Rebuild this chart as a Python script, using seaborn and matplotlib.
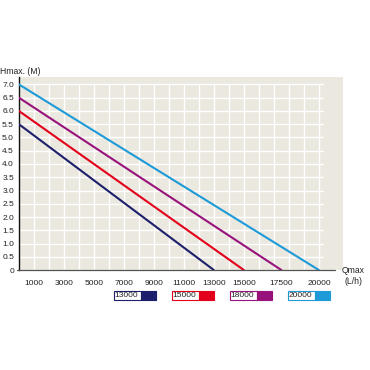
import pandas as pd
import matplotlib.pyplot as plt
import seaborn as sns
from matplotlib.patches import Rectangle

# pump models, head at zero flow (m) and max flow (L/h)
models = ["13000", "15000", "18000", "20000"]
h_max = [5.5, 6.0, 6.5, 7.0]
q_max = [13000, 15000, 17500, 20000]
colors = ["#1c1f6b", "#e2001a", "#98127c", "#1d9ad8"]

x_ticks = [1000, 3000, 5000, 7000, 9000, 11000, 13000, 15000, 17500, 20000]
y_ticks = [0, 0.5, 1.0, 1.5, 2.0, 2.5, 3.0, 3.5, 4.0, 4.5, 5.0, 5.5, 6.0, 6.5, 7.0]
y_labels = ["0"] + [f"{v:.1f}" for v in y_ticks[1:]]

rows = []
for m, h, q in zip(models, h_max, q_max):
    rows.append({"model": m, "Q": 0, "H": h})
    rows.append({"model": m, "Q": q, "H": 0})
df = pd.DataFrame(rows)

sns.set_style("white")
plt.rcParams["font.family"] = ["Liberation Sans", "DejaVu Sans"]

fig = plt.figure(figsize=(3.7, 3.7), dpi=100)
ax = fig.add_axes([0.051, 0.27, 0.876, 0.522])
ax.set_facecolor("#ebe8df")

# grid only inside the charted range
for gx in range(1000, 20001, 1000):
    ax.plot([gx, gx], [0, 7.0], color="white", lw=1.0, zorder=1)
for gy in y_ticks[1:]:
    ax.plot([0, 20300], [gy, gy], color="white", lw=1.0, zorder=1)

sns.lineplot(data=df, x="Q", y="H", hue="model", palette=colors,
             linewidth=1.5, legend=False, ax=ax, zorder=3)

ax.set_xlim(0, 21600)
ax.set_ylim(0, 7.28)
ax.set_xticks(x_ticks)
ax.set_xticklabels([str(v) for v in x_ticks], fontsize=6)
ax.set_yticks(y_ticks)
ax.set_yticklabels(y_labels, fontsize=6)
ax.set_xticks(range(1000, 21000, 1000), minor=True)
ax.tick_params(axis="x", which="major", length=2, width=0.6, pad=5, colors="#222222")
ax.tick_params(axis="x", which="minor", length=2, width=0.6, color="#777777")
ax.tick_params(axis="y", length=2, width=0.6, pad=1.5, colors="#222222")
ax.set_xlabel("")
ax.set_ylabel("")

for s in ["top", "right"]:
    ax.spines[s].set_visible(False)
ax.spines["left"].set_color("#111111")
ax.spines["left"].set_linewidth(1.0)
ax.spines["bottom"].set_visible(False)
# bottom axis line runs past the panel up to the Qmax label
fig.add_artist(plt.Line2D([0.046, 0.905], [0.27, 0.27], color="#555555", lw=0.9))

fig.text(0.0, 0.808, "Hmax. (M)", fontsize=6.2, ha="left", va="center", color="#222222")
fig.text(0.955, 0.255, "Qmax\n(L/h)", fontsize=6.2, ha="center", va="center",
         color="#222222", linespacing=1.3)

# legend boxes
box_y = 291 / 370
box_h = 0.024
for i, (m, c) in enumerate(zip(models, colors)):
    left = (114 + 58 * i) / 370
    tw = 27 / 370
    cw = 15 / 370
    fig.add_artist(Rectangle((left, 1 - box_y - box_h), tw, box_h, transform=fig.transFigure,
                             facecolor="white", edgecolor=c, lw=0.8))
    fig.add_artist(Rectangle((left + tw, 1 - box_y - box_h), cw, box_h, transform=fig.transFigure,
                             facecolor=c, edgecolor=c, lw=0.8))
    fig.text(left + 0.002, 1 - box_y - box_h / 2, m, fontsize=6, ha="left", va="center",
             color="#222222")

fig.savefig("out.png", dpi=100)
